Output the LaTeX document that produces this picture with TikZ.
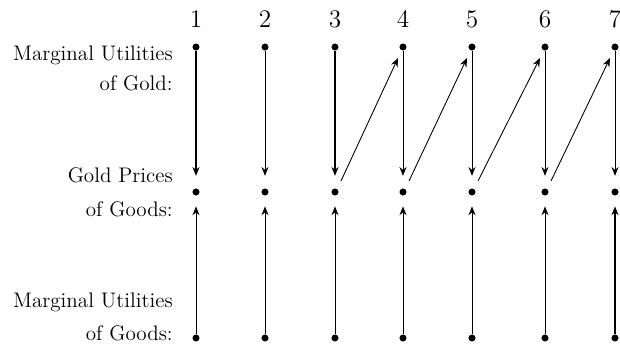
\documentclass[tikz,border=0pt]{standalone}
\usepackage{tikz}
\usetikzlibrary{arrows.meta, positioning, calc}

\begin{document}
\begin{tikzpicture}[x=0.02cm, y=-0.02cm,
    pt/.style={circle, fill, inner sep=0pt, minimum size=4pt},
    num/.style={font=\Large},
    lbl/.style={anchor=east, font=\large, inner sep=0pt},
    arr/.style={-{Stealth[length=5pt, width=4pt]}, line width=0.5pt},
    heavy/.style={line width=1.1pt}
  ]
  \useasboundingbox (0,0) rectangle (620,345);

  % row labels
  \node[lbl] (mug1) at (173,55) {Marginal Utilities};
  \node[lbl] (mug2) at (173,83) {of Gold:};
  \node[lbl] (gp1) at (173,175) {Gold Prices};
  \node[lbl] (gp2) at (173,209) {of Goods:};
  \node[lbl] (mud1) at (173,302) {Marginal Utilities};
  \node[lbl] (mud2) at (173,333) {of Goods:};

  % columns
  \foreach \i/\x in {1/196, 2/265, 3/335, 4/403, 5/472, 6/545, 7/615} {
    \node[num] (n\i) at (\x,19) {\i};
    \node[pt] (t\i) at (\x,47) {};
    \node[pt] (m\i) at (\x,192) {};
    \node[pt] (b\i) at (\x,338) {};
  }

  % gold -> prices
  \draw[arr, heavy, shorten >=7pt] (t1) -- (m1);
  \foreach \i in {2, 4, 5, 6, 7}
    \draw[arr, shorten >=7pt] (t\i) -- (m\i);
  \draw[arr, heavy, shorten >=7pt] (t3) -- (m3);

  % goods -> prices
  \foreach \i in {1, ..., 6}
    \draw[arr, shorten >=6pt] (b\i) -- (m\i);
  \draw[arr, heavy, shorten >=6pt] (b7) -- (m7);

  % diagonals
  \foreach \i/\j in {3/4, 4/5, 5/6, 6/7}
    \draw[arr] ([shift={(6,-11)}]m\i.center) -- ([shift={(-5,11)}]t\j.center);
\end{tikzpicture}
\end{document}
